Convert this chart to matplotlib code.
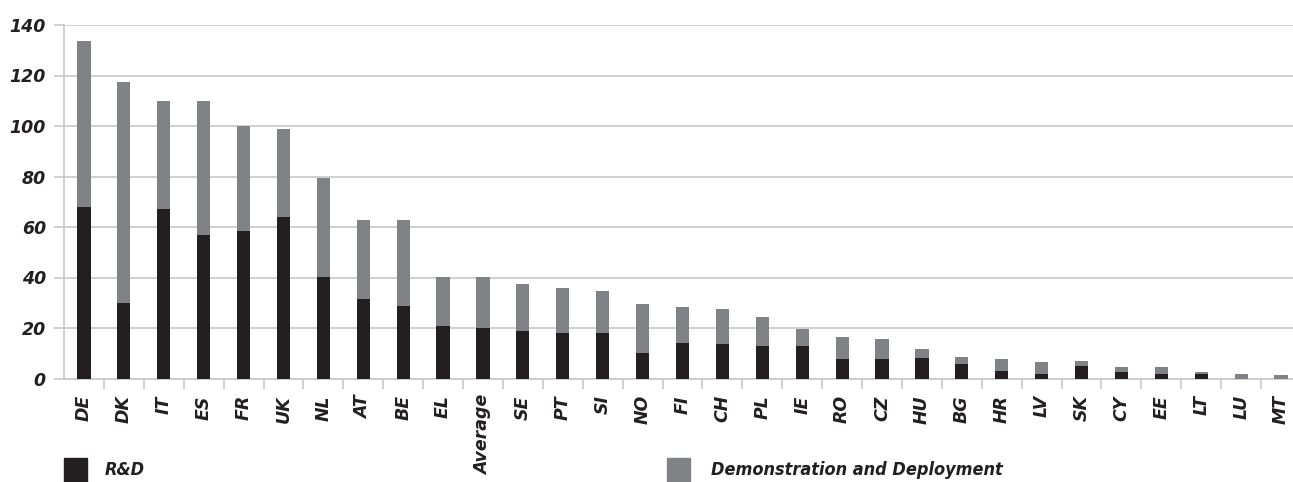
import numpy as np
import matplotlib
matplotlib.use("Agg")
import matplotlib.pyplot as plt
from matplotlib.patches import Rectangle

countries = ["DE", "DK", "IT", "ES", "FR", "UK", "NL", "AT", "BE", "EL",
             "Average", "SE", "PT", "SI", "NO", "FI", "CH", "PL", "IE", "RO",
             "CZ", "HU", "BG", "HR", "LV", "SK", "CY", "EE", "LT", "LU", "MT"]

# totals per country (R&D + demonstration/deployment)
total = [133.7, 117.4, 109.9, 109.9, 100.0, 98.8, 79.4, 62.7, 62.7, 40.3,
         40.3, 37.6, 36.0, 34.8, 29.7, 28.5, 27.7, 24.5, 19.7, 16.6,
         15.6, 11.6, 8.4, 7.7, 6.5, 6.9, 4.5, 4.5, 2.6, 1.8, 1.4]
rnd = [67.9, 29.9, 67.1, 56.8, 58.4, 63.9, 40.2, 31.4, 28.7, 20.8,
       20.1, 18.9, 18.1, 18.1, 10.2, 14.2, 13.8, 13.0, 13.0, 7.8,
       7.7, 8.1, 5.7, 3.0, 1.8, 4.9, 2.6, 1.8, 1.8, 0.0, 0.0]
demo = [t - r for t, r in zip(total, rnd)]

yticks = [0, 20, 40, 60, 80, 100, 120, 140]

DARK = "#231f20"
GREY = "#808285"
GRID = "#c8c8c8"
TXT = "#231f20"

W, H = 1293, 482
fig = plt.figure(figsize=(W / 100, H / 100), dpi=100)
ax = fig.add_axes([64 / W, 1 - 378.5 / H, (1301 - 64) / W, (378.5 - 25) / H])

x = np.arange(len(countries))
ax.bar(x, rnd, width=0.33, color=DARK, zorder=3)
ax.bar(x, demo, bottom=rnd, width=0.33, color=GREY, zorder=3)

ax.set_xlim(-0.5, len(countries) - 0.5)
ax.set_ylim(0, 140)

tick_font = dict(family="DejaVu Sans", weight="bold", style="italic", size=12.5)

ax.set_yticks(yticks)
ax.set_yticklabels([str(v) for v in yticks], fontdict=tick_font, color=TXT)
ax.yaxis.grid(True, color=GRID, linewidth=1.2, zorder=0)
ax.tick_params(axis="y", length=7, width=1.2, color=GRID, pad=6)

ax.set_xticks(x)
ax.set_xticklabels(countries, rotation=90, ha="center", va="top",
                   fontdict=tick_font, color=TXT)
ax.tick_params(axis="x", which="major", length=0, pad=12)
ax.set_xticks(x[:-1] + 0.5, minor=True)
ax.tick_params(axis="x", which="minor", length=7, width=1.2, color=GRID)

for side in ["top", "right"]:
    ax.spines[side].set_visible(False)
for side in ["left", "bottom"]:
    ax.spines[side].set_color(GRID)
    ax.spines[side].set_linewidth(1.2)

# legend drawn in figure pixels below the axis labels
legend_items = [("R&D", DARK, 64, 105), ("Demonstration and Deployment", GREY, 667, 711)]
for label, colour, box_x, text_x in legend_items:
    fig.patches.append(Rectangle((box_x / W, 0), 23 / W, 24 / H,
                                 transform=fig.transFigure, color=colour))
    fig.text(text_x / W, 1 - 470 / H, label, family="DejaVu Sans",
             fontstretch="condensed", weight="bold", style="italic",
             size=13, color=TXT, va="center", ha="left")

fig.savefig("out.png", dpi=100)
